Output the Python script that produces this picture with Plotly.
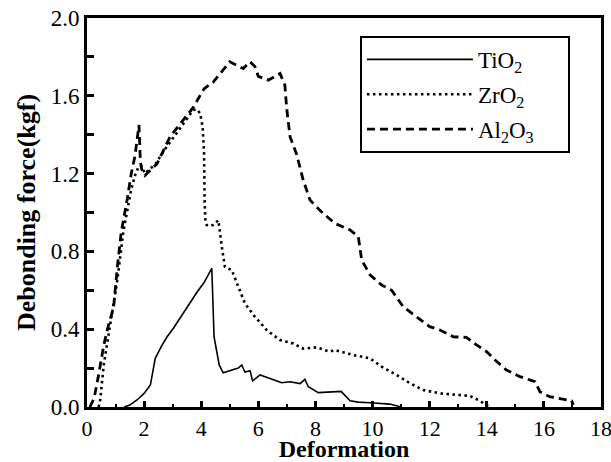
import plotly.graph_objects as go

# ---- data ----
ti_x = [1.3, 1.5, 1.75, 2.0, 2.22, 2.33, 2.39, 2.6, 2.8, 3.05, 3.27, 3.55, 3.85, 4.1, 4.37,
        4.45, 4.55, 4.63, 4.77, 5.07, 5.3, 5.42, 5.53, 5.71, 5.8, 6.06, 6.41, 6.82, 7.11,
        7.46, 7.63, 7.75, 8.1, 8.74, 8.9, 9.21, 9.5, 9.91, 10.6, 11.0]
ti_y = [0.0, 0.01, 0.036, 0.07, 0.113, 0.216, 0.25, 0.31, 0.36, 0.41, 0.46, 0.52, 0.59, 0.64, 0.713,
        0.36, 0.28, 0.216, 0.176, 0.19, 0.2, 0.216, 0.18, 0.187, 0.134, 0.165, 0.147, 0.125, 0.13,
        0.12, 0.142, 0.104, 0.074, 0.079, 0.08, 0.032, 0.025, 0.022, 0.015, 0.0]

zr_x = [0.4, 0.45, 0.59, 0.75, 0.86, 1.07, 1.27, 1.4, 1.55, 1.68, 1.82, 1.9, 2.03, 2.4, 2.8,
        3.1, 3.4, 3.72, 3.85, 3.96, 4.05, 4.1, 4.12, 4.15, 4.19, 4.3, 4.42, 4.6, 4.72, 4.83,
        5.07, 5.3, 5.53, 5.88, 6.29, 6.76, 7.22, 7.57, 8.04, 8.5, 8.68, 9.33, 9.91, 10.32,
        10.84, 11.31, 11.78, 12.36, 13.06, 13.41, 13.7, 13.94, 14.1]
zr_y = [0.0, 0.02, 0.22, 0.36, 0.47, 0.66, 0.9, 1.0, 1.12, 1.19, 1.24, 1.24, 1.2, 1.25, 1.34,
        1.40, 1.46, 1.527, 1.53, 1.51, 1.44, 1.3, 1.05, 0.95, 0.936, 0.93, 0.936, 0.96, 0.824, 0.72,
        0.704, 0.62, 0.533, 0.464, 0.396, 0.344, 0.327, 0.30, 0.307, 0.284, 0.293, 0.267, 0.25, 0.207,
        0.165, 0.122, 0.087, 0.07, 0.062, 0.057, 0.036, 0.015, 0.0]

al_x = [0.1, 0.25, 0.4, 0.59, 0.75, 0.93, 1.07, 1.2, 1.41, 1.55, 1.68, 1.82, 1.87, 1.92, 2.03,
        2.45, 2.91, 3.33, 3.72, 4.07, 4.13, 4.42, 5.0, 5.47, 5.71, 5.88, 6.0, 6.35, 6.76, 6.93,
        6.99, 7.11, 7.34, 7.57, 7.81, 8.16, 8.68, 9.21, 9.5, 9.62, 9.91, 10.32, 10.67, 11.07,
        11.54, 12.0, 12.36, 12.83, 13.29, 13.64, 14.0, 14.29, 14.69, 15.16, 15.69, 15.86, 16.2,
        16.97, 17.03]
al_y = [0.0, 0.046, 0.16, 0.32, 0.42, 0.51, 0.73, 0.9, 1.07, 1.2, 1.29, 1.45, 1.26, 1.22, 1.19,
        1.25, 1.39, 1.47, 1.54, 1.63, 1.64, 1.67, 1.775, 1.74, 1.775, 1.75, 1.70, 1.68, 1.715, 1.655,
        1.54, 1.39, 1.30, 1.167, 1.064, 1.01, 0.944, 0.91, 0.876, 0.756, 0.679, 0.627, 0.60, 0.516,
        0.464, 0.413, 0.396, 0.361, 0.358, 0.319, 0.284, 0.242, 0.19, 0.156, 0.13, 0.079, 0.053,
        0.032, 0.01]

names = ["TiO<sub>2</sub>", "ZrO<sub>2</sub>", "Al<sub>2</sub>O<sub>3</sub>"]
x_ticks = [0, 2, 4, 6, 8, 10, 12, 14, 16, 18]
y_ticks = [0.0, 0.4, 0.8, 1.2, 1.6, 2.0]

FONT = "Liberation Serif, Times New Roman, serif"
PAD = "\u00a0\u00a0\u00a0\u00a0\u00a0"  # right padding inside the legend box

fig = go.Figure()
fig.add_trace(go.Scatter(x=ti_x, y=ti_y, mode="lines", name=names[0] + PAD, legendgroup="a",
                         line=dict(color="black", width=1.6)))
fig.add_trace(go.Scatter(x=zr_x, y=zr_y, mode="lines", name=names[1] + PAD, legendgroup="b",
                         line=dict(color="black", width=2.6, dash="2.5px,3.5px")))
fig.add_trace(go.Scatter(x=al_x, y=al_y, mode="lines", name=names[2] + PAD, legendgroup="c",
                         line=dict(color="black", width=2.8, dash="8px,5px")))

fig.update_layout(
    width=611, height=462,
    margin=dict(l=87, r=10, t=18, b=55, autoexpand=False),
    paper_bgcolor="white", plot_bgcolor="white",
    font=dict(family=FONT, color="black", size=22),
    showlegend=True,
    legend=dict(x=0.531, y=0.954, xanchor="left", yanchor="top",
                bordercolor="black", borderwidth=2, bgcolor="white",
                font=dict(family=FONT, size=23, color="black"),
                tracegroupgap=2, itemwidth=106),
)
fig.update_xaxes(
    range=[0, 18], tickvals=x_ticks, ticks="inside", ticklen=6, tickwidth=3,
    tickcolor="black", showline=True, linewidth=3, linecolor="black", mirror=True,
    showgrid=False, zeroline=False, automargin=True, ticklabeloverflow="allow",
    minor=dict(dtick=1, ticks="inside", ticklen=3, tickwidth=1.5, tickcolor="black", showgrid=False),
    title=dict(text="<b>Deformation</b>", font=dict(family=FONT, size=24), standoff=6),
    tickfont=dict(family=FONT, size=22),
)
fig.update_yaxes(
    range=[0, 2.0], tickvals=y_ticks, tickformat=".1f", ticks="inside", ticklen=7, tickwidth=3,
    tickcolor="black", showline=True, linewidth=3, linecolor="black", mirror=True,
    showgrid=False, zeroline=False, automargin=True, ticklabeloverflow="allow",
    minor=dict(dtick=0.2, ticks="inside", ticklen=7, tickwidth=3, tickcolor="black", showgrid=False),
    title=dict(text="<b>Debonding force(kgf)</b>", font=dict(family=FONT, size=26), standoff=8),
    tickfont=dict(family=FONT, size=23),
)

# remove the default 8 px page margin so the figure fills the window exactly
fig.write_html("out.html", config={"displayModeBar": False},
               post_script="document.body.style.margin='0px';")
